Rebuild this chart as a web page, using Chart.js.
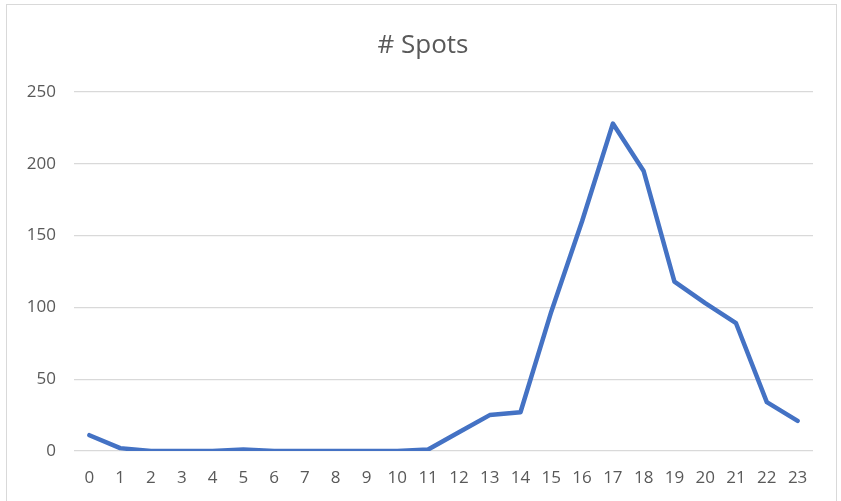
<!DOCTYPE html>
<html>
<head>
<meta charset="utf-8">
<script src="https://cdn.jsdelivr.net/npm/chart.js@4"></script>
<style>
  html, body { margin: 0; padding: 0; background: #fff; }
  #frame {
    position: absolute; left: 6px; top: 4px;
    width: 831px; height: 520px;
    border: 1px solid #d9d9d9; box-sizing: border-box;
  }
  #wrap { position: absolute; left: 0; top: 0; width: 841px; height: 501px; }
</style>
</head>
<body>
<div id="frame"></div>
<div id="wrap"><canvas id="spotsChart" width="841" height="501"></canvas></div>
<script>
// 每小时的数据
const hours = ['0','1','2','3','4','5','6','7','8','9','10','11','12','13','14','15','16','17','18','19','20','21','22','23'];
const spots = [11, 2, 0, 0, 0, 1, 0, 0, 0, 0, 0, 1, 13, 25, 27, 97, 160, 228, 195, 118, 103, 89, 34, 21];
const yTicks = [0, 50, 100, 150, 200, 250];
const chartTitle = '# Spots';

const FONT = '"Open Sans", "Noto Sans", sans-serif';
const ctx = document.getElementById('spotsChart').getContext('2d');

// 标题居中于整个图框（不是绘图区）
const titlePlugin = {
    id: 'frameTitle',
    afterDraw(chart) {
        const c = chart.ctx;
        c.save();
        c.fillStyle = '#595959';
        c.font = '26px ' + FONT;
        c.textAlign = 'center';
        c.textBaseline = 'middle';
        c.fillText(chartTitle, 423, 46);
        c.restore();
    }
};

const chart = new Chart(ctx, {
    type: 'line',
    data: {
        labels: hours,
        datasets: [{
            label: chartTitle,
            data: spots,
            borderColor: '#4472C4',
            backgroundColor: '#4472C4',
            borderWidth: 4.5,
            pointRadius: 0,
            tension: 0,
            borderJoinStyle: 'round',
            borderCapStyle: 'round',
            fill: false
        }]
    },
    plugins: [titlePlugin],
    options: {
        responsive: false,
        animation: false,
        layout: {
            padding: { left: 0, right: 28, top: 92, bottom: 0 }
        },
        plugins: {
            legend: { display: false },
            tooltip: { enabled: false },
            title: { display: false }
        },
        scales: {
            x: {
                offset: true,
                grid: { display: false, drawTicks: false },
                border: { display: false },
                ticks: {
                    color: '#595959',
                    font: { family: FONT, size: 17 },
                    padding: 17,
                    maxRotation: 0,
                    autoSkip: false
                },
                afterFit: (scale) => { scale.height = 50; }
            },
            y: {
                min: 0,
                max: 250,
                afterBuildTicks: (scale) => {
                    scale.ticks = yTicks.map(v => ({ value: v }));
                },
                grid: { color: '#d9d9d9', lineWidth: 1.3, drawTicks: false },
                border: { display: false },
                ticks: {
                    color: '#595959',
                    font: { family: FONT, size: 17 },
                    padding: 18
                },
                afterFit: (scale) => { scale.width = 74; }
            }
        }
    }
});
</script>
</body>
</html>
